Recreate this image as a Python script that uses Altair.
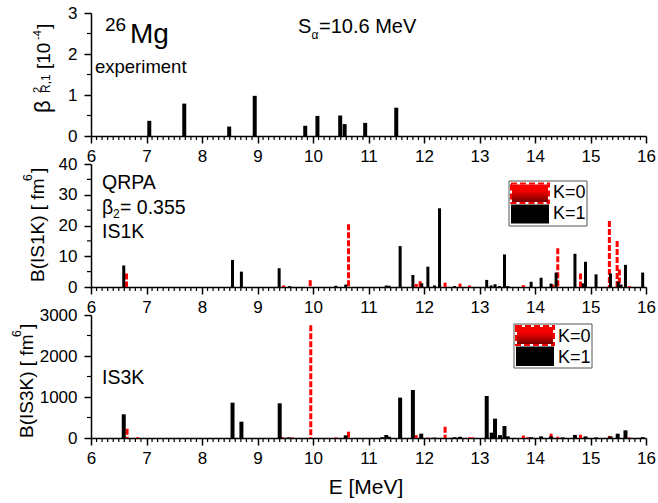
import altair as alt
import pandas as pd

# ---------------- data ----------------
exp_E = [7.05, 7.68, 8.49, 8.95, 9.86, 10.08, 10.49, 10.57, 10.94, 11.50]
exp_beta = [0.37, 0.79, 0.23, 0.98, 0.25, 0.49, 0.50, 0.29, 0.32, 0.69]

is1_k1_E = [6.59, 8.55, 8.71, 9.39, 9.58, 10.41, 10.59, 11.32, 11.37, 11.57, 11.80,
            11.96, 12.07, 12.19, 12.28, 12.55, 13.13, 13.21, 13.28, 13.36, 13.45,
            13.51, 13.93, 14.11, 14.29, 14.38, 14.72, 14.87, 14.91, 15.10, 15.36,
            15.50, 15.55, 15.63, 15.94]
is1_k1_B = [7.0, 8.8, 5.0, 6.1, 0.3, 0.4, 0.8, 0.5, 0.4, 13.3, 3.9,
            1.2, 6.6, 0.5, 25.6, 0.3, 2.3, 0.5, 0.9, 0.3, 10.6,
            0.3, 1.7, 3.0, 1.1, 4.7, 10.8, 1.2, 8.2, 4.1, 4.4,
            1.7, 0.8, 7.2, 4.7]
is1_k0_E = [6.64, 9.47, 9.95, 10.64, 11.86, 11.93, 12.38, 12.65, 12.82, 13.79,
            14.32, 14.41, 14.82, 15.34, 15.48, 15.52, 15.70]
is1_k0_B = [4.4, 0.5, 2.2, 20.4, 1.0, 1.9, 1.4, 1.1, 0.5, 0.6,
            0.8, 12.6, 4.4, 21.5, 15.0, 5.7, 0.3]

is3_k1_E = [6.59, 8.55, 8.71, 9.40, 9.56, 10.59, 11.25, 11.32, 11.37, 11.57, 11.80,
            11.95, 12.19, 12.55, 12.65, 13.13, 13.22, 13.28, 13.37, 13.45, 13.51,
            13.93, 14.11, 14.29, 14.50, 14.72, 14.91, 15.10, 15.36, 15.49, 15.63, 15.94]
is3_k1_B = [578, 861, 398, 846, 15, 65, 20, 73, 30, 984, 1171,
            106, 10, 20, 30, 1024, 130, 471, 70, 293, 40,
            20, 40, 40, 15, 75, 40, 15, 40, 105, 187, 20]
is3_k0_E = [6.65, 6.84, 9.45, 9.63, 9.96, 10.41, 10.64, 11.86, 12.07, 12.38,
            12.82, 12.88, 13.79, 13.87, 14.29, 14.41, 14.82, 15.34, 15.70]
is3_k0_B = [228, 20, 20, 15, 2750, 15, 154, 70, 10, 276,
            20, 15, 60, 20, 105, 30, 80, 50, 15]

x_major = list(range(6, 17))
x_minor = [round(6 + 0.1 * i, 1) for i in range(1, 100) if i % 10 != 0]
top_major, top_minor = [0, 1, 2, 3], [0.5, 1.5, 2.5]
mid_major, mid_minor = [0, 10, 20, 30, 40], [5, 15, 25, 35]
bot_major, bot_minor = [0, 1000, 2000, 3000], [500, 1500, 2500]

# ---------------- styling ----------------
W, H = 555, 123
FONT = "Liberation Sans"
xscale = alt.Scale(domain=[6, 16], nice=False, zero=False)


def xaxis():
    return alt.Axis(values=x_major, title=None, grid=False, tickSize=7, tickWidth=1.5,
                    tickColor="black", domainColor="black", domainWidth=1.5,
                    labelFont=FONT, labelFontSize=17, labelColor="black",
                    labelPadding=5, labelFlush=False, labelOverlap=False, format="d")


def yaxis(vals):
    return alt.Axis(values=vals, title=None, grid=False, tickSize=7, tickWidth=1.5,
                    tickColor="black", domainColor="black", domainWidth=1.5,
                    labelFont=FONT, labelFontSize=17, labelColor="black",
                    labelPadding=7, labelOverlap=False, format="d")


def one():
    return pd.DataFrame({"_": [0]})


def txt(s, x, y, size, angle=0, align="left", baseline="alphabetic"):
    kw = dict(text=s, font=FONT, fontSize=size, color="black", align=align, baseline=baseline)
    if angle:
        kw["angle"] = angle
    return alt.Chart(one()).mark_text(**kw).encode(x=alt.value(x), y=alt.value(y))


def bars(E, B, yscale, yvals, width, color="black", dash=None):
    df = pd.DataFrame({"E": E, "B": B})
    kw = dict(color=color, strokeWidth=width)
    if dash:
        kw["strokeDash"] = dash
    return alt.Chart(df).mark_rule(**kw).encode(
        x=alt.X("E:Q", scale=xscale, axis=xaxis()),
        y=alt.Y("B:Q", scale=yscale, axis=yaxis(yvals)),
        y2=alt.datum(0),
    )


def minor_ticks(yscale, yvals, yminor):
    xm = alt.Chart(pd.DataFrame({"E": x_minor})).mark_rule(color="black", strokeWidth=1.2).encode(
        x=alt.X("E:Q", scale=xscale, axis=xaxis()), y=alt.value(H), y2=alt.value(H + 4))
    ym = alt.Chart(pd.DataFrame({"B": yminor})).mark_rule(color="black", strokeWidth=1.2).encode(
        y=alt.Y("B:Q", scale=yscale, axis=yaxis(yvals)), x=alt.value(0), x2=alt.value(-4))
    return [xm, ym]


def legend(bx1, bx2, by1, by2, rx1, rx2, r0y1, r0y2, r1y1, r1y2, tx, t0y, t1y):
    grad = alt.LinearGradient(gradient="linear",
                              stops=[alt.GradientStop(color="#ff0000", offset=0),
                                     alt.GradientStop(color="#ee0000", offset=0.4),
                                     alt.GradientStop(color="#6a0000", offset=1)],
                              x1=0, x2=0, y1=0, y2=1)
    box = alt.Chart(one()).mark_rect(fill="white", stroke="#555555", strokeWidth=1).encode(
        x=alt.value(bx1), x2=alt.value(bx2), y=alt.value(by1), y2=alt.value(by2))
    r0 = alt.Chart(one()).mark_rect(fill=grad, stroke="white", strokeWidth=2).encode(
        x=alt.value(rx1), x2=alt.value(rx2), y=alt.value(r0y1), y2=alt.value(r0y2))
    r0d = alt.Chart(one()).mark_rect(fillOpacity=0, stroke="#ff0000", strokeWidth=2,
                                     strokeDash=[6, 3]).encode(
        x=alt.value(rx1), x2=alt.value(rx2), y=alt.value(r0y1), y2=alt.value(r0y2))
    r1 = alt.Chart(one()).mark_rect(fill="black").encode(
        x=alt.value(rx1), x2=alt.value(rx2), y=alt.value(r1y1), y2=alt.value(r1y2))
    return [box, r0, r0d, r1, txt("K=0", tx, t0y, 18), txt("K=1", tx, t1y, 18)]


# ---------------- top panel: experiment ----------------
ys_top = alt.Scale(domain=[0, 3], nice=False)
anchor = alt.Chart(one()).mark_rule(strokeOpacity=0, stroke="white").encode(
    x=alt.value(-90), x2=alt.value(-90), y=alt.value(-12), y2=alt.value(-12))
top = alt.layer(
    bars(exp_E, exp_beta, ys_top, top_major, 4),
    *minor_ticks(ys_top, top_major, top_minor),
    anchor,
    txt("26", 14, 18, 19),
    txt("Mg", 39, 29.7, 28),
    txt("experiment", 4, 59.7, 18.5),
    txt("S", 207, 19.7, 20),
    txt("α", 220.5, 25.5, 12),
    txt("=10.6 MeV", 228, 19.7, 20),
    txt("β", -41, 100, 22, angle=270),
    txt("2", -50, 80, 11, angle=270),
    txt("R,1", -41, 80, 12, angle=270),
    txt("[10", -41, 56, 19, angle=270),
    txt("-4", -50, 27, 11, angle=270),
    txt("]", -41, 16, 19, angle=270),
).properties(width=W, height=H)

# ---------------- middle panel: IS1K ----------------
ys_mid = alt.Scale(domain=[0, 40], nice=False)
mid = alt.layer(
    bars(is1_k0_E, is1_k0_B, ys_mid, mid_major, 3, color="#ff0000", dash=[6, 2]),
    bars(is1_k1_E, is1_k1_B, ys_mid, mid_major, 3),
    *minor_ticks(ys_mid, mid_major, mid_minor),
    txt("QRPA", 11, 25.3, 19.5),
    txt("β", 11, 49.7, 19.5),
    txt("2", 22, 53.5, 12),
    txt("= 0.355", 29, 49.7, 19.5),
    txt("IS1K", 11, 73.7, 19.5),
    *legend(418, 496, 17, 62, 420, 458, 19.5, 39, 40.5, 59.5, 462, 33.7, 55.3),
    txt("B(IS1K) [ fm", -47, 118, 19, angle=270),
    txt("6", -59, 17, 12, angle=270),
    txt("]", -47, 9, 19, angle=270),
).properties(width=W, height=H)

# ---------------- bottom panel: IS3K ----------------
ys_bot = alt.Scale(domain=[0, 3000], nice=False)
bot = alt.layer(
    bars(is3_k0_E, is3_k0_B, ys_bot, bot_major, 3, color="#ff0000", dash=[6, 2]),
    bars(is3_k1_E, is3_k1_B, ys_bot, bot_major, 4),
    *minor_ticks(ys_bot, bot_major, bot_minor),
    txt("IS3K", 11, 68.7, 19.5),
    *legend(423, 501, 9, 53, 425, 463, 11, 30, 31.5, 51, 467, 27, 47.7),
    txt("E [MeV]", 275, 179, 21, align="center"),
    txt("B(IS3K) [ fm", -58, 123, 19, angle=270),
    txt("6", -70, 22, 12, angle=270),
    txt("]", -58, 14, 19, angle=270),
).properties(width=W, height=H)

chart = alt.vconcat(top, mid, bot, spacing=28, bounds="flush").properties(
    padding=0, background="white"
).configure_view(stroke="transparent")

chart.save("out.html", embed_options={"renderer": "svg", "actions": False})
